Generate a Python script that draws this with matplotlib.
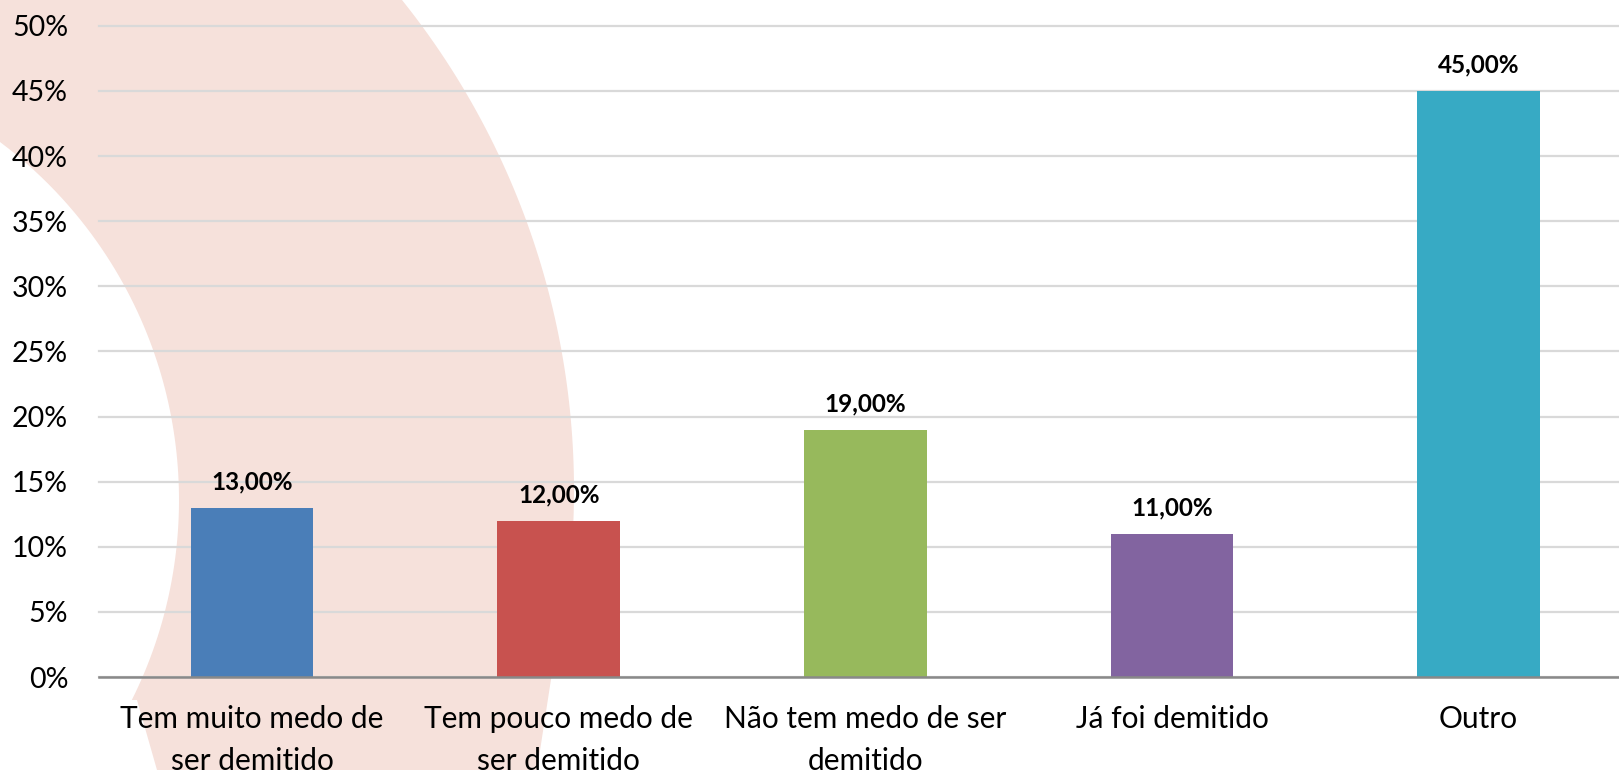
import numpy as np
import matplotlib
matplotlib.use("Agg")
import matplotlib.pyplot as plt
from matplotlib.patches import Polygon
from matplotlib.ticker import PercentFormatter

# ---- data ----
categories = ["Tem muito medo de\nser demitido",
              "Tem pouco medo de\nser demitido",
              "Não tem medo de ser\ndemitido",
              "Já foi demitido",
              "Outro"]
values = [0.13, 0.12, 0.19, 0.11, 0.45]
value_labels = ["13,00%", "12,00%", "19,00%", "11,00%", "45,00%"]
colors = ["#4A7EB8", "#C8524F", "#97B95C", "#8264A0", "#37AAC4"]
yticks = [0.0, 0.05, 0.10, 0.15, 0.20, 0.25, 0.30, 0.35, 0.40, 0.45, 0.50]

W, H = 1619, 770
plt.rcParams['font.family'] = ['Lato', 'DejaVu Sans']
fig = plt.figure(figsize=(W / 100, H / 100), dpi=100)
fig.patch.set_facecolor("white")

# ---- decorative pink crescent in the background (pixel coords, y from top) ----
bg = fig.add_axes([0, 0, 1, 1], zorder=-5)
bg.set_xlim(0, W)
bg.set_ylim(H, 0)
bg.axis("off")

def outer_x(y):
    return -210 + np.sqrt(784**2 - (y - 490)**2)

def inner_x(y):
    return -268.5 + np.sqrt(447.5**2 - (y - 500)**2)

pts = [(0, 0)]
for y in np.linspace(0, 677, 80):
    pts.append((outer_x(y), y))
pts.append((537, 770))
pts.append((157, 770))
pts.append((137, 700))
for y in np.linspace(700, 142, 80):
    pts.append((inner_x(y), y))
pts.append((0, 142))
bg.add_patch(Polygon(pts, closed=True, facecolor="#F6E1DB", edgecolor="none"))

# ---- axes ----
left_px, right_px = 98.7, 1632.0
top_px, bottom_px = 25.8, 677.0
ax = fig.add_axes([left_px / W, 1 - bottom_px / H,
                   (right_px - left_px) / W, (bottom_px - top_px) / H], zorder=1)
ax.set_facecolor("none")

x = np.arange(len(categories))
ax.bar(x, values, width=0.4, color=colors, zorder=3)

for xi, v, lab in zip(x, values, value_labels):
    ax.annotate(lab, (xi, v), xytext=(0, 18.5), textcoords="offset points",
                ha="center", va="center", fontsize=17.5, fontweight="bold",
                color="#000000")

ax.set_xlim(-0.5, len(categories) - 0.5)
ax.set_ylim(0, 0.5)
ax.set_yticks(yticks)
ax.yaxis.set_major_formatter(PercentFormatter(1.0, decimals=0))
ax.set_xticks(x)
ax.set_xticklabels(categories, fontsize=21.5, linespacing=1.6)
ax.tick_params(axis="y", length=0, pad=22, labelsize=20.5, labelcolor="#000000")
ax.tick_params(axis="x", length=0, pad=20, labelcolor="#000000")

ax.grid(axis="y", color="#D9D9D9", linewidth=1.6, zorder=1)
for gl in ax.get_ygridlines():
    gl.set_clip_on(False)
ax.set_axisbelow(True)
for s in ["left", "right", "top"]:
    ax.spines[s].set_visible(False)
ax.spines["bottom"].set_color("#898989")
ax.spines["bottom"].set_linewidth(1.8)
ax.spines["bottom"].set_zorder(4)

fig.savefig("out.png", dpi=100, facecolor="white")
